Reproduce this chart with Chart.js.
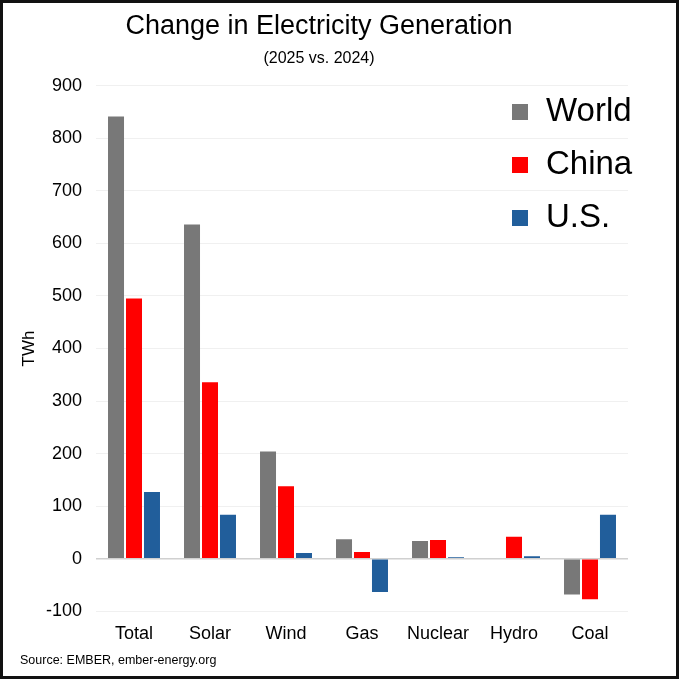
<!DOCTYPE html>
<html>
<head>
<meta charset="utf-8">
<script src="https://cdn.jsdelivr.net/npm/chart.js@4.4.1/dist/chart.umd.min.js"></script>
<style>
  html, body { margin: 0; padding: 0; background: #fff; }
  #wrap { width: 680px; height: 679px; position: relative; }
</style>
</head>
<body>
<div id="wrap"><canvas id="myChart" width="680" height="679"></canvas></div>
<script>
var ctx = document.getElementById('myChart');

// data (TWh, 2025 vs 2024)
var categories = ['Total', 'Solar', 'Wind', 'Gas', 'Nuclear', 'Hydro', 'Coal'];
var worldValues = [841, 636, 204, 37, 34, 0, -68];
var chinaValues = [495, 336, 138, 13, 36, 42, -77];
var usValues = [127, 84, 11, -63, 3, 5, 84];
var seriesNames = ['World', 'China', 'U.S.'];

const FONT = '"Liberation Sans", Arial, sans-serif';
const Y_MIN = -100;
const Y_MAX = 900;
const Y_STEP = 100;

// legend drawn at the top right of the plot, big text
const bigLegend = {
  id: 'bigLegend',
  afterDraw(chart) {
    const c = chart.ctx;
    c.save();
    c.font = '33px ' + FONT;
    c.textBaseline = 'middle';
    chart.data.datasets.forEach((ds, i) => {
      const y = 112 + i * 53;
      c.fillStyle = ds.backgroundColor;
      c.fillRect(512, y - 8, 16, 16);
      c.fillStyle = '#000';
      c.fillText(ds.label, 546, y);
    });
    c.restore();
  }
};

// source note and outer frame
const frameAndSource = {
  id: 'frameAndSource',
  afterDraw(chart) {
    const c = chart.ctx;
    c.save();
    c.font = '12.5px ' + FONT;
    c.fillStyle = '#000';
    c.textBaseline = 'middle';
    c.fillText('Source: EMBER, ember-energy.org', 20, 661);
    c.strokeStyle = '#111';
    c.lineWidth = 3;
    c.strokeRect(1.5, 1.5, 676, 676);
    c.restore();
  }
};

new Chart(ctx, {
  type: 'bar',
  data: {
    labels: categories,
    datasets: [
      { label: seriesNames[0], data: worldValues, backgroundColor: '#787878' },
      { label: seriesNames[1], data: chinaValues, backgroundColor: '#ff0000' },
      { label: seriesNames[2], data: usValues, backgroundColor: '#215e9b' }
    ]
  },
  options: {
    responsive: false,
    animation: false,
    categoryPercentage: 0.71,
    barPercentage: 0.89,
    layout: {
      padding: { left: 10, right: 52, top: 0, bottom: 30 }
    },
    plugins: {
      legend: { display: false },
      tooltip: { enabled: false },
      title: {
        display: true,
        text: 'Change in Electricity Generation',
        color: '#000',
        font: { family: FONT, size: 27, weight: 'normal' },
        padding: { top: 10, bottom: 2 }
      },
      subtitle: {
        display: true,
        text: '(2025 vs. 2024)',
        color: '#000',
        font: { family: FONT, size: 16, weight: 'normal' },
        padding: { top: 5, bottom: 17 }
      }
    },
    scales: {
      x: {
        grid: { display: false },
        border: { display: false },
        ticks: {
          color: '#000',
          font: { family: FONT, size: 18 },
          padding: 4
        }
      },
      y: {
        min: Y_MIN,
        max: Y_MAX,
        afterFit(scale) { scale.width = 86; },
        ticks: {
          stepSize: Y_STEP,
          color: '#000',
          font: { family: FONT, size: 18 },
          padding: 14
        },
        border: { display: false },
        grid: {
          drawTicks: false,
          color: (c) => c.tick && c.tick.value === 0 ? '#d0d0d0' : '#f0f0f0',
          lineWidth: (c) => c.tick && c.tick.value === 0 ? 1.5 : 1
        },
        title: {
          display: true,
          text: 'TWh',
          color: '#000',
          font: { family: FONT, size: 17 },
          padding: { top: 9, bottom: 0 }
        }
      }
    }
  },
  plugins: [bigLegend, frameAndSource]
});
</script>
</body>
</html>
